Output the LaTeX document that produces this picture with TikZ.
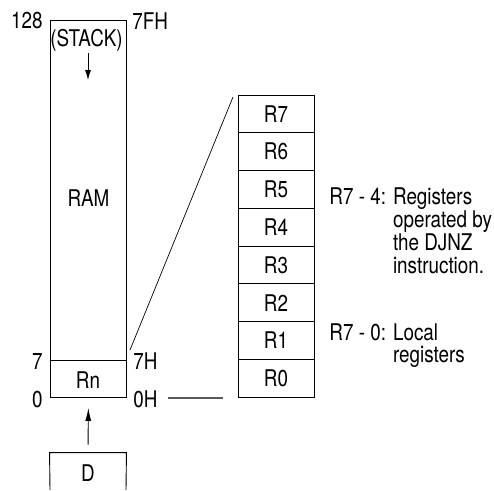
\documentclass[tikz,border=0pt]{standalone}
\usepackage{fontspec}
\setmainfont[FakeStretch=0.82]{TeX Gyre Heros}
\usetikzlibrary{arrows.meta}
\begin{document}
\begin{tikzpicture}[x=1pt,y=-1pt,
  font=\fontsize{23}{22}\selectfont,
  line width=0.9pt,
  box/.style={draw, inner sep=0pt, anchor=north west},
  reg/.style={draw, inner sep=0pt, minimum width=76pt, minimum height=37.75pt},
  lbl/.style={inner sep=0pt},
  arr/.style={-{Latex[length=13pt,width=6pt]}}
]
\useasboundingbox (0,0) rectangle (494,490);
% RAM
\node[box, minimum width=76pt, minimum height=340pt] (ram) at (50,20) {};
\node[lbl] (ramtxt) at (88.5,198) {RAM};
\node[lbl] (stack) at (86.5,40) {(STACK)};
\coordinate (sa1) at (88,53);
\coordinate (sa2) at (88,80);
\draw[-{Latex[length=10pt,width=6pt]}] (sa1) -- (sa2);
\node[box, minimum width=76pt, minimum height=37pt] (rn) at (50,360) {};
\node[lbl] (rntxt) at (88,380) {Rn};
% address labels
\node[lbl, anchor=east] (l128) at (43,21) {128};
\node[lbl, anchor=west] (l7fh) at (132,21) {7FH};
\node[lbl, anchor=east] (l7) at (43,361.5) {7};
\node[lbl, anchor=west] (l7h) at (133,361.5) {7H};
\node[lbl, anchor=east] (l0) at (43,399.5) {0};
\node[lbl, anchor=west] (l0h) at (133,399.5) {0H};
% D box
\node[lbl, minimum width=76pt, minimum height=40pt] (dtxt) at (88,473) {D};
\draw (50,490) -- (dtxt.north west) -- (dtxt.north east) -- (126,490);
\draw[arr, shorten <=8pt, shorten >=10pt] (dtxt.north) -- (rn.south);
% register file
\foreach \i [count=\k from 0] in {7,6,5,4,3,2,1,0}{
  \node[reg] (r\i) at (276,{95+37.75*\k+18.875}) {R\i};
}
\coordinate (z1) at (130,350);
\coordinate (z2) at (233,97);
\draw[line width=0.7pt] (z1) -- (z2);
\coordinate (g1) at (168,398);
\coordinate (g2) at (223,398);
\draw[black!65, line width=1.1pt] (g1) -- (g2);
% notes
\node[lbl, anchor=base west] (n1) at (329,204) {\begin{tabular}[t]{@{}l@{\hspace{7pt}}l@{}}R7 - 4:&Registers\\ &operated by\\ &the DJNZ\\ &instruction.\end{tabular}};
\node[lbl, anchor=base west] (n2) at (329,340) {\begin{tabular}[t]{@{}l@{\hspace{7pt}}l@{}}R7 - 0:&Local\\ &registers\end{tabular}};
\end{tikzpicture}
\end{document}
